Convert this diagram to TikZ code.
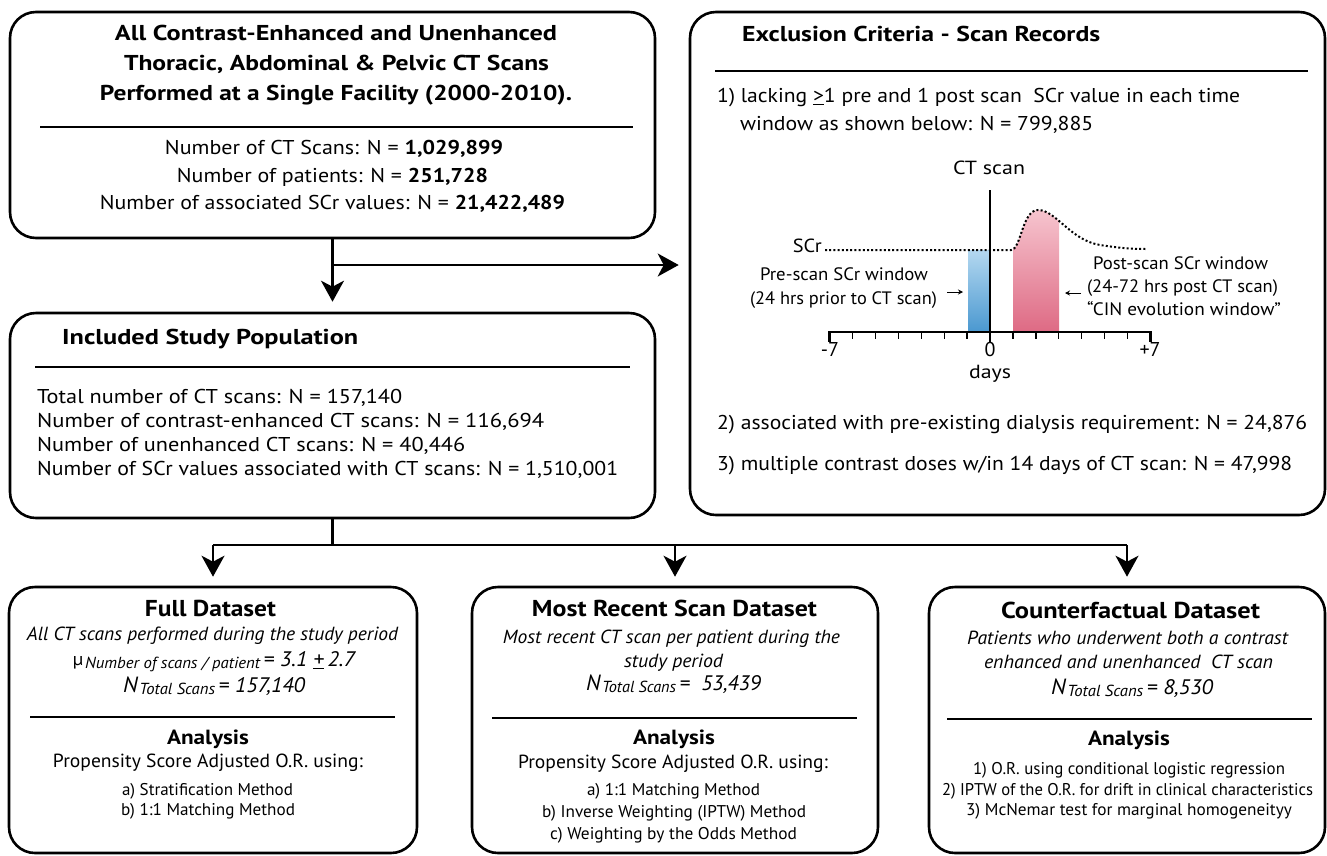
\documentclass[tikz,border=0pt]{standalone}
\usepackage{fontspec}
\setmainfont{PT Sans}
\usetikzlibrary{arrows.meta}
\definecolor{bluetop}{HTML}{B4D8F0}
\definecolor{bluebot}{HTML}{4A98D0}
\definecolor{redtop}{HTML}{F6C4CE}
\definecolor{redbot}{HTML}{DE6A84}
\newcommand\fz[1]{\fontsize{#1}{#1}\selectfont}
\newcommand\fw[2]{\resizebox{#1pt}{\height}{#2}}
\newcommand\Nsub[2]{{\fz{22}\itshape N}\,\raisebox{-0.45ex}{\fz{16}\itshape #1}{\fz{21}\itshape #2}}
\begin{document}
\begin{tikzpicture}[x=1pt,y=-1pt,
  box/.style={draw, line width=2.6pt, rounded corners=26pt, inner sep=0pt},
  sepline/.style={line width=1.8pt},
  conn/.style={line width=2.4pt},
  tipped/.style={-{Stealth[length=21pt,width=23pt,inset=6pt]}},
  txt/.style={inner sep=0pt, anchor=mid},
  ttl/.style={txt, font=\fz{21.5}\bfseries},
  body/.style={txt, font=\fz{20}},
  chart/.style={txt, font=\fz{18}},
  dots/.style={line width=2pt, dash pattern=on 2pt off 2.2pt}]
\useasboundingbox (0,0) rectangle (1327,855);

% ---------- boxes ----------
\node[box, minimum width=645pt, minimum height=226pt] (A) at (332.5,125) {};
\node[box, minimum width=645pt, minimum height=205pt] (B) at (332.5,415.5) {};
\node[box, minimum width=635pt, minimum height=503pt] (C) at (1007.5,263.5) {};
\node[box, minimum width=408pt, minimum height=266pt] (F) at (213,720) {};
\node[box, minimum width=406pt, minimum height=266pt] (R) at (675,720) {};
\node[box, minimum width=396pt, minimum height=266pt] (K) at (1127,720) {};

% ---------- connectors ----------
\coordinate (j1) at (332.5,265);
\coordinate (j2) at (332.5,545);
\draw[conn, tipped, shorten >=10pt] (A.south) -- (B.north);
\draw[conn, tipped, shorten >=10pt] (j1) -- (C.west |- j1);
\draw[conn] (B.south) -- (j2);
\draw[conn] (F.north |- j2) -- (K.north |- j2);
\draw[conn, tipped, shorten >=9pt] (F.north |- j2) -- (F.north);
\draw[conn, tipped, shorten >=9pt] (R.north |- j2) -- (R.north);
\draw[conn, tipped, shorten >=9pt] (K.north |- j2) -- (K.north);

% ---------- box A ----------
\node[ttl] (a1) at (336,38) {\fw{442}{All Contrast-Enhanced and Unenhanced}};
\node[ttl] (a2) at (336.5,68) {\fw{425}{Thoracic, Abdominal \& Pelvic CT Scans}};
\node[ttl] (a3) at (336,98) {\fw{472}{Performed at a Single Facility (2000-2010).}};
\draw[sepline] (40,127) -- (633,127);
\node[body] (a4) at (334,152) {\fw{338}{Number of CT Scans: N = \textbf{1,029,899}}};
\node[body] (a5) at (332.5,180) {\fw{311}{Number of patients: N = \textbf{251,728}}};
\node[body] (a6) at (332.5,207) {\fw{465}{Number of associated SCr values: N = \textbf{21,422,489}}};

% ---------- box B ----------
\node[ttl, anchor=mid west] (b1) at (62,342) {\fw{296}{Included Study Population}};
\draw[sepline] (35,367) -- (630,367);
\node[body, anchor=mid west] (b2) at (37,401) {\fw{365}{Total number of CT scans: N = 157,140}};
\node[body, anchor=mid west] (b3) at (37,425) {\fw{507}{Number of contrast-enhanced CT scans: N = 116,694}};
\node[body, anchor=mid west] (b4) at (37,449) {\fw{428}{Number of unenhanced CT scans: N = 40,446}};
\node[body, anchor=mid west] (b5) at (37,473) {\fw{581}{Number of SCr values associated with CT scans: N = 1,510,001}};

% ---------- box C ----------
\node[ttl, anchor=mid west] (c1) at (742,39) {\fw{358}{Exclusion Criteria - Scan Records}};
\draw[sepline] (715,71) -- (1308,71);
\node[body, anchor=mid west] (c2) at (717,100) {\fw{523}{1) lacking \underline{>}1 pre and 1 post scan\ \ SCr value in each time}};
\node[body, anchor=mid west] (c3) at (740,128) {\fw{353}{window as shown below: N = 799,885}};
\node[body, anchor=mid west] (c4) at (717,427) {\fw{590}{2) associated with pre-existing dialysis requirement: N = 24,876}};
\node[body, anchor=mid west] (c5) at (717,468) {\fw{575}{3) multiple contrast doses w/in 14 days of CT scan: N = 47,998}};

% chart
\begin{scope}
  \clip (1013,150) rectangle (1059,332);
  \shade[top color=redtop, bottom color=redbot] (1000,332) -- (1000,250) -- (1011,250)
    .. controls (1021,250) and (1022,210) .. (1038,210)
    .. controls (1056,210) and (1070,240) .. (1100,245) -- (1100,332) -- cycle;
\end{scope}
\shade[top color=bluetop, bottom color=bluebot] (968,250) rectangle (990,332);
\draw[dots] (825,250) -- (1011,250)
    .. controls (1021,250) and (1022,210) .. (1038,210)
    .. controls (1056,210) and (1070,240) .. (1100,245)
    .. controls (1120,248) and (1130,249) .. (1147,249);
\draw[line width=1.3pt] (990,190) -- (990,332);
\draw[line width=2.8pt] (830,332) -- (1151,332);
\foreach \i in {-6,...,-1,1,2,...,6} \draw[line width=1.3pt] (990+22.93*\i,332) -- ++(0,7);
\foreach \i in {-7,0,7} \draw[line width=2.2pt] (990+22.93*\i,331) -- ++(0,11);
\node[chart, font=\fz{19}] (ct) at (989,172) {\fw{72}{CT scan}};
\node[chart, font=\fz{19}, anchor=mid east] (scr) at (822,250) {\fw{29}{SCr}};
\node[chart] (p1) at (844,278) {\fw{168}{Pre-scan SCr window}};
\node[chart] (p2) at (843.5,302) {\fw{187}{(24 hrs prior to CT scan)}};
\node[chart] (q1) at (1180.5,267) {\fw{175}{Post-scan SCr window}};
\node[chart] (q2) at (1182.5,290) {\fw{191}{(24-72 hrs post CT scan)}};
\node[chart] (q3) at (1184,313) {\fw{194}{“CIN evolution window”}};
\draw[line width=1pt, -{Stealth[length=5pt,width=5pt]}] (947,292) -- (963,292);
\draw[line width=1pt, -{Stealth[length=5pt,width=5pt]}] (1081,293) -- (1065,293);
\node[chart, font=\fz{20}] (m7) at (830,354) {-7};
\node[chart, font=\fz{20}] (z0) at (990,354) {0};
\node[chart, font=\fz{20}] (p7) at (1150,354) {+7};
\node[chart, font=\fz{19}] (dy) at (990,376) {\fw{42}{days}};

% ---------- Full dataset ----------
\node[ttl, font=\fz{23}\bfseries] (f1) at (210.5,614) {\fw{131}{Full Dataset}};
\node[txt, font=\fz{19}\itshape] (f2) at (212.5,638) {\fw{371}{All CT scans performed during the study period}};
\node[txt] (f3) at (214,664) {\fw{282}{\raisebox{0.3ex}{\fz{18}µ}\,\raisebox{-0.45ex}{\fz{16}\itshape Number of scans / patient}{\fz{21}\itshape \,= 3.1 \underline{+}\,2.7}}};
\node[txt] (f4) at (214,690) {\fw{182}{\Nsub{Total Scans}{\,= 157,140}}};
\draw[sepline] (30,717) -- (395,717);
\node[ttl, font=\fz{20.5}\bfseries] (f5) at (208,742) {\fw{82}{Analysis}};
\node[txt, font=\fz{19}] (f6) at (208,765) {\fw{310}{Propensity Score Adjusted O.R. using:}};
\node[txt, font=\fz{17}] (f7) at (207.5,793) {\fw{171}{a) Stratification Method}};
\node[txt, font=\fz{17}] (f8) at (208,813) {\fw{174}{b) 1:1 Matching Method}};

% ---------- Most recent ----------
\node[ttl, font=\fz{23}\bfseries] (r1) at (674.5,614) {\fw{285}{Most Recent Scan Dataset}};
\node[txt, font=\fz{19}\itshape] (r2) at (671.5,641) {\fw{337}{Most recent CT scan per patient during the}};
\node[txt, font=\fz{19}\itshape] (r3) at (673.5,665) {\fw{99}{study period}};
\node[txt] (r4) at (673.5,688) {\fw{175}{\Nsub{Total Scans}{\,=\ \ 53,439}}};
\draw[sepline] (492,718) -- (857,718);
\node[ttl, font=\fz{20.5}\bfseries] (r5) at (674,742) {\fw{82}{Analysis}};
\node[txt, font=\fz{19}] (r6) at (673,766) {\fw{310}{Propensity Score Adjusted O.R. using:}};
\node[txt, font=\fz{17}] (r7) at (673.5,793) {\fw{173}{a) 1:1 Matching Method}};
\node[txt, font=\fz{17}] (r8) at (674,815) {\fw{264}{b) Inverse Weighting (IPTW) Method}};
\node[txt, font=\fz{17}] (r9) at (673.5,837) {\fw{247}{c) Weighting by the Odds Method}};

% ---------- Counterfactual ----------
\node[ttl, font=\fz{23}\bfseries] (k1) at (1130.5,616) {\fw{259}{Counterfactual Dataset}};
\node[txt, font=\fz{19}\itshape] (k2) at (1127.5,642) {\fw{321}{Patients who underwent both a contrast}};
\node[txt, font=\fz{19}\itshape] (k3) at (1128.5,666) {\fw{289}{enhanced and unenhanced\ \ CT scan}};
\node[txt] (k4) at (1132,692) {\fw{162}{\Nsub{Total Scans}{\,= 8,530}}};
\draw[sepline] (947,719) -- (1312,719);
\node[ttl, font=\fz{20.5}\bfseries] (k5) at (1129,743) {\fw{82}{Analysis}};
\node[txt, font=\fz{17}] (k6) at (1129,772) {\fw{312}{1) O.R. using conditional logistic regression}};
\node[txt, font=\fz{17}] (k7) at (1127.5,793) {\fw{371}{2) IPTW of the O.R. for drift in clinical characteristics}};
\node[txt, font=\fz{17}] (k8) at (1129,813) {\fw{326}{3) McNemar test for marginal homogeneityy}};
\end{tikzpicture}
\end{document}
